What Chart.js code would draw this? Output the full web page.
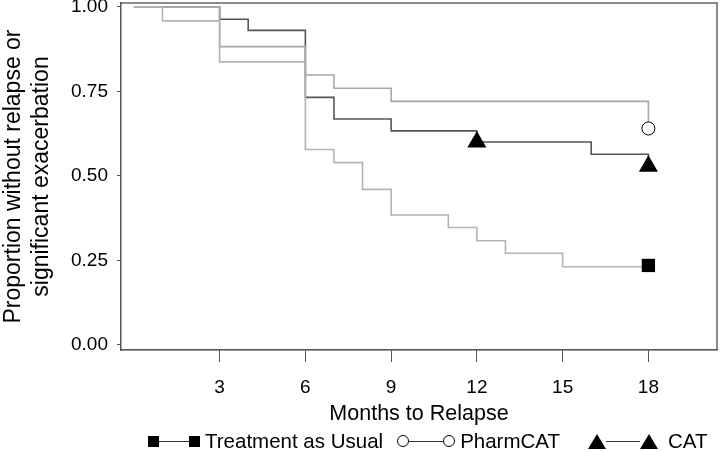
<!DOCTYPE html>
<html>
<head>
<meta charset="utf-8">
<script src="https://cdn.jsdelivr.net/npm/chart.js@4/dist/chart.umd.min.js"></script>
<style>
  html, body { margin: 0; padding: 0; background: #fff; overflow: hidden; }
  #wrap { position: relative; width: 720px; height: 452px; font-family: "Liberation Sans", Arial, sans-serif; }
  canvas { display: block; }
  #legend { position: absolute; left: 148px; top: 429px; height: 24px; display: flex; align-items: center; font-size: 20.5px; line-height: 24px; color: #000; white-space: nowrap; }
  .pair { display: flex; align-items: center; margin-right: 5px; }
  .ln { width: 30px; height: 1px; background: #333; }
  .sq { width: 11px; height: 11px; background: #000; }
  .ci { width: 10px; height: 10px; border: 1px solid #000; border-radius: 50%; background: #fff; }
  .tr { width: 0; height: 0; border-left: 9px solid transparent; border-right: 9px solid transparent; border-bottom: 15px solid #000; }
  .lab { margin-right: 14px; }
</style>
</head>
<body>
<div id="wrap">
  <canvas id="kmChart" width="720" height="452"></canvas>
  <div id="legend">
    <span class="pair"><span class="sq"></span><span class="ln"></span><span class="sq"></span></span><span class="lab">Treatment as Usual</span>
    <span class="pair"><span class="ci"></span><span class="ln" style="width:34px"></span><span class="ci"></span></span><span class="lab" style="margin-right:28px">PharmCAT</span>
    <span class="pair" style="margin-right:10px"><span class="tr"></span><span class="ln" style="width:34px"></span><span class="tr"></span></span><span class="lab">CAT</span>
  </div>
</div>
<script>
// Kaplan-Meier steps (month of event, proportion after event)
const tauMonths = [0, 1, 3, 6, 7, 8, 9, 11, 12, 13, 15, 18];
const tauSurv = [1, 0.958, 0.837, 0.578, 0.539, 0.46, 0.384, 0.347, 0.308, 0.271, 0.231, 0.235];

const pharmMonths = [0, 3, 6, 7, 9, 18];
const pharmSurv = [1, 0.882, 0.798, 0.759, 0.72, 0.64];

const catMonths = [0, 3, 4, 6, 7, 9, 12, 16, 18];
const catSurv = [1, 0.963, 0.93, 0.732, 0.668, 0.633, 0.6, 0.564, 0.528];

const xTicks = [3, 6, 9, 12, 15, 18];
const yTicks = [0, 0.25, 0.5, 0.75, 1];

const toPoints = (months, surv) => months.map((m, i) => ({ x: m, y: surv[i] }));
// marker only on the last point
const lastOnly = (arr, r) => arr.map((v, i) => (i === arr.length - 1 ? r : 0));

const framePlugin = {
  id: "frame",
  beforeDraw(chart) {
    const { ctx, chartArea: a } = chart;
    ctx.save();
    ctx.strokeStyle = "#d4d4d4";
    ctx.lineWidth = 1.5;
    ctx.beginPath();
    ctx.moveTo(a.left, a.bottom);
    ctx.lineTo(a.right, a.bottom);
    ctx.stroke();
    ctx.strokeStyle = "#666";
    ctx.beginPath();
    ctx.moveTo(a.left, a.top);
    ctx.lineTo(a.right, a.top);
    ctx.lineTo(a.right, a.bottom);
    ctx.stroke();
    ctx.restore();
  },
};

new Chart(document.getElementById("kmChart").getContext("2d"), {
  type: "line",
  data: {
    datasets: [
      {
        label: "Treatment as Usual",
        data: toPoints(tauMonths, tauSurv),
        stepped: "before",
        borderColor: "#b3b3b3",
        borderWidth: 1.6,
        pointStyle: "rect",
        pointRadius: lastOnly(tauMonths, 9.4),
        pointBackgroundColor: "#000",
        pointBorderColor: "#000",
        pointBorderWidth: 0,
      },
      {
        label: "PharmCAT",
        data: toPoints(pharmMonths, pharmSurv),
        stepped: "before",
        borderColor: "#a6a6a6",
        borderWidth: 1.6,
        pointStyle: "circle",
        pointRadius: lastOnly(pharmMonths, 6.5),
        pointBackgroundColor: "#fff",
        pointBorderColor: "#000",
        pointBorderWidth: 1,
      },
      {
        label: "CAT",
        data: toPoints(catMonths, catSurv),
        stepped: "before",
        borderColor: "#555",
        borderWidth: 1.6,
        pointStyle: "triangle",
        pointRadius: catMonths.map((m, i) => (m === 12 || i === catMonths.length - 1 ? 11 : 0)),
        pointBackgroundColor: "#000",
        pointBorderColor: "#000",
        pointBorderWidth: 0,
      },
    ],
  },
  options: {
    responsive: false,
    animation: false,
    layout: { autoPadding: false, padding: { top: 3, right: 3, left: 0, bottom: 0 } },
    plugins: { legend: { display: false }, tooltip: { enabled: false } },
    scales: {
      x: {
        type: "linear",
        min: -0.45,
        max: 20.4,
        afterBuildTicks: (s) => { s.ticks = xTicks.map((v) => ({ value: v })); },
        afterFit: (s) => { s.height = 102; s.paddingLeft = 0; s.paddingRight = 0; },
        ticks: { color: "#000", font: { family: "Liberation Sans", size: 19 }, padding: 14, maxRotation: 0 },
        grid: { drawOnChartArea: false, tickLength: 12, color: "#555", lineWidth: 1 },
        border: { color: "#555", width: 1.5, dash: [58, 13.3], dashOffset: 51.3 },
        title: {
          display: true,
          text: "Months to Relapse",
          color: "#000",
          font: { family: "Liberation Sans", size: 21.5 },
          padding: { top: 0, bottom: 25 },
        },
      },
      y: {
        min: -0.015,
        max: 1.011,
        afterBuildTicks: (s) => { s.ticks = yTicks.map((v) => ({ value: v })); },
        afterFit: (s) => { s.width = 121; s.paddingTop = 0; s.paddingBottom = 0; },
        ticks: {
          color: "#000",
          font: { family: "Liberation Sans", size: 19, lineHeight: 0.3 },
          padding: 9,
          callback: (v) => v.toFixed(2),
        },
        grid: { drawOnChartArea: false, tickLength: 4, color: "#555", lineWidth: 1 },
        border: { color: "#555", width: 1.5 },
        title: {
          display: true,
          text: ["Proportion without relapse or", "significant exacerbation"],
          color: "#000",
          font: { family: "Liberation Sans", size: 23 },
          padding: { top: 0, bottom: 0 },
        },
      },
    },
  },
  plugins: [framePlugin],
});
</script>
</body>
</html>
